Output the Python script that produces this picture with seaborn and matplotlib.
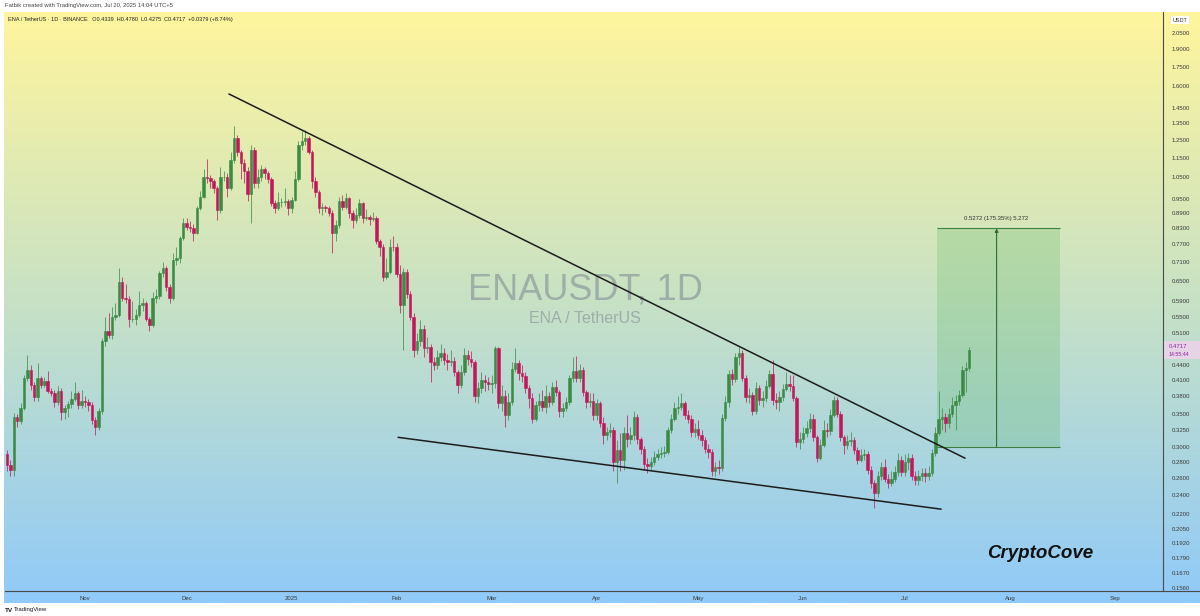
import matplotlib
matplotlib.use("Agg")
import numpy as np
import pandas as pd
import matplotlib.pyplot as plt
import matplotlib.dates as mdates
from matplotlib.colors import LinearSegmentedColormap
from matplotlib.patches import Rectangle
from matplotlib.lines import Line2D
from matplotlib.ticker import NullLocator, FixedLocator, FixedFormatter
import seaborn as sns

# ENA / USDT daily candles, 2024-10-09 .. 2025-07-20
start_date = "2024-10-09"
first_open = 0.290
closes = [
    .276, .270, .345, .338, .360, .414, .430, .400, .378, .413,
    .400, .408, .390, .386, .370, .390, .353, .360, .366, .375,
    .385, .365, .372, .370, .365, .340, .330, .355, .490, .515,
    .505, .550, .555, .645, .600, .598, .545, .545, .555, .580,
    .585, .545, .530, .600, .605, .673, .690, .630, .600, .715,
    .720, .793, .850, .835, .830, .810, .910, .960, 1.050, 1.045,
    1.030, 1.000, .900, 1.050, 1.050, 1.000, 1.135, 1.260, 1.180, 1.120,
    1.080, .970, 1.190, 1.020, 1.050, 1.090, 1.070, 1.040, .930, .910,
    .935, .935, .940, .910, .945, 1.040, 1.220, 1.240, 1.260, 1.180,
    1.030, .980, .910, .915, .912, .890, .810, .840, .940, .915,
    .955, .890, .860, .880, .930, .870, .872, .865, .868, .780,
    .760, .660, .675, .760, .758, .670, .580, .675, .610, .550,
    .470, .490, .520, .475, .478, .445, .440, .455, .465, .450,
    .445, .448, .425, .400, .425, .460, .452, .445, .380, .395,
    .410, .405, .402, .404, .475, .368, .380, .348, .370, .431,
    .444, .424, .418, .394, .377, .342, .365, .372, .361, .380,
    .370, .396, .387, .355, .360, .370, .413, .427, .413, .430,
    .387, .370, .372, .348, .368, .335, .317, .322, .325, .280,
    .296, .282, .320, .312, .318, .345, .311, .298, .277, .275,
    .280, .286, .290, .292, .294, .325, .342, .359, .362, .368,
    .348, .342, .322, .326, .318, .310, .298, .293, .268, .273,
    .272, .344, .370, .422, .412, .455, .464, .413, .379, .382,
    .355, .395, .373, .376, .399, .421, .373, .370, .378, .393,
    .402, .398, .376, .307, .312, .320, .328, .342, .314, .285,
    .303, .325, .323, .348, .373, .350, .314, .303, .308, .310,
    .296, .283, .289, .290, .270, .254, .242, .262, .273, .259,
    .254, .259, .267, .283, .267, .280, .285, .262, .258, .262,
    .266, .262, .266, .292, .320, .342, .345, .335, .350, .365,
    .372, .382, .430, .4339, .4717,
]
highs = [
    .296, .282, .352, .350, .368, .420, .460, .440, .405, .444,
    .418, .415, .428, .395, .392, .398, .394, .365, .372, .390,
    .405, .390, .392, .380, .375, .370, .345, .360, .498, .550,
    .560, .575, .585, .690, .660, .640, .605, .590, .570, .620,
    .600, .590, .550, .615, .625, .680, .710, .695, .640, .740,
    .760, .800, .870, .870, .855, .845, .920, .985, 1.090, 1.140,
    1.060, 1.040, 1.010, 1.100, 1.080, 1.070, 1.180, 1.330, 1.280, 1.190,
    1.140, 1.100, 1.220, 1.210, 1.090, 1.110, 1.100, 1.080, 1.050, .945,
    .980, .955, 1.000, .950, .960, 1.080, 1.240, 1.300, 1.310, 1.270,
    1.190, 1.050, .990, .930, .925, .920, .900, .860, .960, .965,
    .975, .960, .900, .910, .950, .935, .905, .880, .895, .875,
    .790, .770, .720, .790, .800, .775, .700, .690, .685, .620,
    .560, .510, .540, .530, .500, .485, .455, .470, .485, .475,
    .462, .470, .455, .430, .440, .475, .470, .468, .450, .405,
    .425, .420, .415, .420, .480, .478, .400, .392, .385, .445,
    .475, .450, .440, .425, .400, .385, .372, .385, .392, .400,
    .388, .405, .410, .392, .368, .378, .420, .455, .458, .442,
    .435, .392, .385, .385, .375, .372, .345, .330, .335, .330,
    .310, .320, .330, .348, .330, .355, .350, .315, .302, .285,
    .286, .295, .298, .300, .302, .330, .350, .370, .380, .385,
    .372, .356, .348, .335, .340, .325, .315, .305, .298, .280,
    .282, .350, .380, .430, .432, .465, .478, .470, .420, .395,
    .388, .405, .400, .390, .410, .430, .450, .385, .390, .402,
    .425, .420, .420, .380, .322, .330, .338, .352, .350, .318,
    .312, .340, .335, .358, .380, .378, .355, .318, .318, .322,
    .315, .300, .298, .298, .295, .275, .258, .268, .280, .284,
    .265, .268, .275, .292, .288, .290, .292, .290, .268, .270,
    .272, .272, .275, .298, .330, .390, .360, .352, .360, .378,
    .382, .392, .438, .445, .478,
]
lows = [
    .268, .262, .262, .330, .334, .356, .408, .392, .372, .372,
    .395, .396, .385, .380, .362, .365, .340, .342, .345, .360,
    .372, .358, .360, .362, .355, .334, .318, .325, .350, .480,
    .498, .495, .540, .550, .590, .585, .525, .535, .530, .548,
    .565, .538, .515, .525, .585, .598, .660, .620, .585, .595,
    .700, .705, .785, .820, .815, .780, .805, .900, .955, 1.020,
    1.000, .975, .860, .890, 1.030, .960, .990, 1.120, 1.160, 1.040,
    1.020, .940, .850, 1.000, 1.000, 1.030, 1.040, 1.020, .920, .890,
    .900, .915, .920, .880, .890, .940, 1.030, 1.190, 1.220, 1.170,
    1.000, .960, .890, .880, .895, .875, .740, .780, .830, .900,
    .905, .870, .830, .850, .870, .850, .860, .840, .855, .770,
    .730, .650, .655, .670, .745, .660, .560, .470, .600, .540,
    .455, .462, .480, .455, .465, .405, .430, .432, .448, .440,
    .430, .437, .418, .385, .395, .420, .440, .435, .370, .368,
    .385, .390, .392, .385, .395, .360, .355, .330, .340, .365,
    .425, .410, .405, .385, .360, .335, .338, .355, .355, .352,
    .362, .365, .380, .345, .345, .355, .365, .405, .405, .405,
    .380, .360, .362, .340, .340, .330, .305, .310, .315, .268,
    .254, .268, .270, .300, .305, .310, .305, .290, .270, .266,
    .270, .276, .282, .285, .286, .290, .320, .338, .350, .356,
    .342, .335, .315, .315, .312, .302, .292, .285, .262, .262,
    .265, .268, .338, .362, .400, .405, .440, .408, .370, .368,
    .348, .350, .365, .362, .370, .395, .365, .358, .355, .372,
    .390, .390, .372, .300, .298, .306, .315, .322, .308, .280,
    .282, .300, .315, .318, .345, .345, .308, .290, .298, .302,
    .290, .278, .280, .283, .265, .248, .226, .238, .258, .255,
    .248, .250, .255, .262, .262, .262, .270, .258, .252, .252,
    .256, .255, .258, .262, .288, .318, .325, .322, .328, .345,
    .325, .365, .378, .388, .4275,
]

price_ticks = [2.05, 1.90, 1.75, 1.60, 1.45, 1.35, 1.25, 1.15, 1.05, 0.95,
               0.89, 0.83, 0.77, 0.71, 0.65, 0.59, 0.55, 0.51, 0.44, 0.41,
               0.38, 0.35, 0.325, 0.30, 0.28, 0.26, 0.24, 0.22, 0.205, 0.192,
               0.179, 0.167, 0.156]
month_dates = ["2024-11-01", "2024-12-01", "2025-01-01", "2025-02-01", "2025-03-01",
               "2025-04-01", "2025-05-01", "2025-06-01", "2025-07-01", "2025-08-01",
               "2025-09-01"]
month_labels = ["Nov", "Dec", "2025", "Feb", "Mar", "Apr", "May", "Jun", "Jul", "Aug", "Sep"]

# drawings
upper_line_dates = ["2024-12-13 12:00", "2025-07-18 19:00"]
upper_line_prices = [1.545, 0.285]
lower_line_dates = ["2025-02-01 10:00", "2025-07-11 17:00"]
lower_line_prices = [0.314, 0.225]
box_dates = ["2025-07-10 12:00", "2025-08-15 19:00"]
box_prices = [0.30066, 0.82786]
box_label = "0.5272 (175.35%) 5,272"
arrow_date = "2025-07-28 02:00"

W, H = 1200, 616


def fx(px):
    return px / W


def fy(py):
    return 1 - py / H


def dnum(s):
    return mdates.date2num(pd.Timestamp(s))


sns.set_theme(style="white")
plt.rcParams["font.family"] = ["Liberation Sans", "DejaVu Sans"]

fig = plt.figure(figsize=(12, 6.16), dpi=100)
fig.patch.set_facecolor("white")

# gradient background (chart + axes area)
bg = fig.add_axes([fx(4), fy(603), 1 - fx(4), (603 - 12) / H], zorder=0)
grad = LinearSegmentedColormap.from_list("tvgrad", ["#FFF59D", "#C6E1C6", "#90CAF9"])
bg.imshow(np.linspace(0, 1, 256).reshape(-1, 1), aspect="auto", cmap=grad,
          extent=[0, 1, 0, 1], origin="upper")
bg.axis("off")

ax = fig.add_axes([fx(5), fy(591), fx(1163) - fx(5), (591 - 12) / H], zorder=1)
ax.set_facecolor("none")

df = pd.DataFrame({
    "date": pd.date_range(start_date, periods=len(closes), freq="D"),
    "close": closes,
    "high": highs,
    "low": lows,
})
df["open"] = [first_open] + closes[:-1]
df["x"] = mdates.date2num(df["date"])
up = df["close"] >= df["open"]

up_col = "#3B8B45"
dn_col = "#C2185B"
colors = np.where(up, up_col, dn_col)

ax.vlines(df["x"], df["low"], df["high"], colors=colors, linewidth=0.7, alpha=0.75, zorder=2)
body_lo = np.minimum(df["open"], df["close"])
body_h = np.abs(df["close"] - df["open"])
ax.bar(df["x"], body_h, bottom=body_lo, width=0.72, color=colors,
       edgecolor=colors, linewidth=0.4, zorder=3)

# trend lines
lines = pd.DataFrame({
    "x": [dnum(d) for d in upper_line_dates + lower_line_dates],
    "y": upper_line_prices + lower_line_prices,
    "line": ["upper", "upper", "lower", "lower"],
})
sns.lineplot(data=lines, x="x", y="y", units="line", estimator=None,
             color="#1c1c1c", linewidth=1.1, ax=ax, legend=False, zorder=4)

# price range box
bx0, bx1 = dnum(box_dates[0]), dnum(box_dates[1])
ax.add_patch(Rectangle((bx0, box_prices[0]), bx1 - bx0, box_prices[1] - box_prices[0],
                       facecolor="#4CAF50", alpha=0.22, edgecolor="none", zorder=1))
ax.hlines(box_prices, bx0, bx1, colors="#3E7F44", linewidth=0.8, zorder=2)
ax_x = dnum(arrow_date)
ax.annotate("", xy=(ax_x, box_prices[1]), xytext=(ax_x, box_prices[0]),
            arrowprops=dict(arrowstyle="-|>", color="#2F6B35", lw=0.8,
                            mutation_scale=5, shrinkA=0, shrinkB=0), zorder=3)
ax.text(ax_x, box_prices[1] * 1.035, box_label,
        ha="center", va="bottom", fontsize=4.3, color="#333333", zorder=5)

# axes setup
ax.set_yscale("log")
ax.set_ylim(0.1539, 2.26)
ax.set_xlim(df["x"].iloc[0] - 0.6, df["x"].iloc[0] + 341.2)
ax.yaxis.tick_right()
ax.yaxis.set_major_locator(FixedLocator(price_ticks))
ax.yaxis.set_major_formatter(FixedFormatter([f"{p:.4f}" for p in price_ticks]))
ax.yaxis.set_minor_locator(NullLocator())
ax.set_xticks([dnum(d) for d in month_dates])
ax.set_xticklabels(month_labels)
ax.xaxis.set_minor_locator(NullLocator())
ax.tick_params(axis="y", length=0, pad=6, labelsize=4.3, labelcolor="#3a3a3a")
ax.tick_params(axis="x", length=0, pad=3.5, labelsize=4.3, labelcolor="#3a3a3a")
ax.set_xlabel("")
ax.set_ylabel("")
ax.grid(False)
for side in ["top", "left"]:
    ax.spines[side].set_visible(False)
for side in ["right", "bottom"]:
    ax.spines[side].set_color("#4a4a4a")
    ax.spines[side].set_linewidth(0.8)
fig.add_artist(Line2D([fx(1163), 1], [fy(591), fy(591)], color="#4a4a4a", lw=0.8, zorder=3))

# watermark
ax.text(0.5009, 0.52, "ENAUSDT, 1D", transform=ax.transAxes, ha="center", va="center",
        fontsize=26, color="#7d8590", alpha=0.55, zorder=0)
ax.text(0.5009, 0.47, "ENA / TetherUS", transform=ax.transAxes, ha="center", va="center",
        fontsize=11.5, color="#7d8590", alpha=0.55, zorder=0)

# labels
fig.text(fx(5), fy(6), "Fatbik created with TradingView.com, Jul 20, 2025 14:04 UTC+5",
         ha="left", va="center", fontsize=4.2, color="#444444")
fig.text(fx(8), fy(19), "ENA / TetherUS \u00b7 1D \u00b7 BINANCE   O0.4339  H0.4780  L0.4275  C0.4717  +0.0379 (+8.74%)",
         ha="left", va="center", fontsize=4.0, color="#222222")
fig.text(fx(1040), fy(553), "CryptoCove", ha="center", va="center", fontsize=13.5,
         fontweight="bold", fontstyle="italic", color="#111111")
fig.text(fx(1180), fy(20), "USDT", ha="center", va="center", fontsize=4.0, color="#333333",
         bbox=dict(boxstyle="square,pad=0.35", facecolor="white", edgecolor="none"))
fig.add_artist(Rectangle((fx(1164), fy(359)), fx(36), (359 - 341) / H,
                         facecolor="#E6D3E6", edgecolor="none", zorder=4))
fig.text(fx(1169), fy(346), "0.4717", ha="left", va="center", fontsize=4.3, color="#8E24AA", zorder=5)
fig.text(fx(1169), fy(354), "14:55:44", ha="left", va="center", fontsize=3.8, color="#8E24AA", zorder=5)
fig.text(fx(5), fy(610), "TV", ha="left", va="center", fontsize=4.6, fontweight="bold", color="#131722")
fig.text(fx(14), fy(610), "TradingView", ha="left", va="center", fontsize=4.3, color="#131722")

fig.savefig("out.png", dpi=100, facecolor="white")
